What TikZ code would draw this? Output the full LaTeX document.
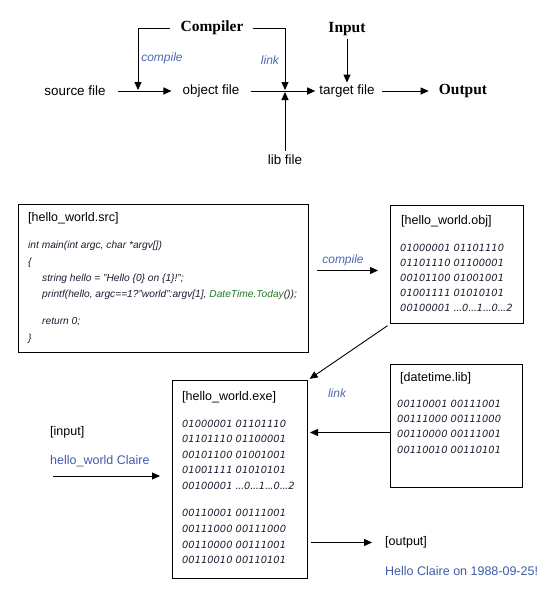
\documentclass[tikz,border=0pt]{standalone}
\usepackage{fontspec}
\setmainfont{Liberation Sans}
\newfontfamily\headfont{Liberation Serif}
\newfontfamily\bitsfont{DejaVu Sans}
\usetikzlibrary{arrows.meta}

\definecolor{noteblue}{RGB}{78,104,178}
\definecolor{inkblue}{RGB}{62,92,170}
\definecolor{codegreen}{RGB}{38,120,40}
\definecolor{codeink}{RGB}{28,28,48}

% narrow ellipsis used in the binary dumps
\newcommand{\bitdots}{.\kern-0.5pt.\kern-0.5pt.}

\tikzset{
  plain/.style={inner sep=0pt, font=\fontsize{13.4}{16}\selectfont},
  headword/.style={inner sep=0pt, font=\headfont\bfseries\fontsize{15.5}{18}\selectfont},
  note/.style={inner sep=0pt, text=noteblue, font=\itshape\fontsize{12}{14}\selectfont},
  filebox/.style={draw, line width=1pt, inner sep=0pt, anchor=north west},
  boxtitle/.style={inner sep=0pt, anchor=west, font=\fontsize{12.5}{15}\selectfont},
  bits/.style={inner sep=0pt, anchor=west, text=codeink, font=\bitsfont\itshape\fontsize{9.9}{12}\selectfont},
  codeline/.style={inner sep=0pt, anchor=west, text=codeink, font=\itshape\fontsize{10.2}{12}\selectfont},
  sample/.style={inner sep=0pt, anchor=west, font=\fontsize{12.5}{15}\selectfont},
  flow/.style={line width=0.9pt, -{Triangle[length=8pt,width=7pt]}},
}

\begin{document}
\begin{tikzpicture}[x=1pt,y=-1pt]
\useasboundingbox (0,0) rectangle (548,592);

% ---------- overview: source -> object -> target -> output ----------
\node[headword] (compiler) at (212,28) {Compiler};
\node[headword] (input)    at (347,29) {Input};
\node[plain]    (source)   at (75,91)  {source file};
\node[plain]    (object)   at (211,91) {object file};
\node[plain]    (target)   at (347,91) {target file};
\node[headword] (output)   at (463,91) {Output};
\node[plain]    (lib)      at (285,160) {lib file};
\node[note]     (compilenote) at (162,58) {compile};
\node[note]     (linknote)    at (270,60) {link};

\coordinate (cjoin) at (138,91);
\coordinate (ljoin) at (285,91);

\draw[flow, shorten <=12pt, shorten >=11pt] (source.east) -- (object.west);
\draw[flow, shorten <=11pt, shorten >=4pt] (object.east) -- (target.west);
\draw[flow, shorten <=7pt, shorten >=10pt] (target.east) -- (output.west);
\draw[flow, shorten >=1pt] ([xshift=-10pt]compiler.west) -| (cjoin);
\draw[flow, shorten >=1pt] ([xshift=9pt]compiler.east) -| (ljoin);
\draw[flow, shorten <=3pt, shorten >=2pt] (input.south) -- (input.south |- target.north);
\draw[flow, shorten <=4pt, shorten >=1pt] (lib.north) -- (ljoin);

% ---------- worked example ----------
\node[filebox, minimum width=290pt, minimum height=148pt] (srcbox) at (18,204) {};
\node[filebox, minimum width=133pt, minimum height=118pt] (objbox) at (390,205) {};
\node[filebox, minimum width=135pt, minimum height=198pt] (exebox) at (172,380) {};
\node[filebox, minimum width=132pt, minimum height=123pt] (libbox) at (390,364) {};

% source file
\node[boxtitle] (srctitle) at (28,218) {[hello\_world.src]};
\node[codeline] (src1) at (28,246) {int main(int argc, char *argv[])};
\node[codeline] (src2) at (28,263) {\{};
\node[codeline] (src3) at (42,279) {string hello = "Hello \{0\} on \{1\}!";};
\node[codeline] (src4) at (42,295) {printf(hello, argc==1?"world":argv[1], \textcolor{codegreen}{DateTime.Today}());};
\node[codeline] (src5) at (42,322) {return 0;};
\node[codeline] (src6) at (28,339) {\}};

% object file
\node[boxtitle] (objtitle) at (401,221) {[hello\_world.obj]};
\node[bits] (obj1) at (400,248) {01000001 01101110};
\node[bits] (obj2) at (400,263) {01101110 01100001};
\node[bits] (obj3) at (400,278) {00101100 01001001};
\node[bits] (obj4) at (400,293) {01001111 01010101};
\node[bits] (obj5) at (400,308) {00100001 \bitdots0\bitdots1\bitdots0\bitdots2};

% executable
\node[boxtitle] (exetitle) at (182,397) {[hello\_world.exe]};
\node[bits] (exe1) at (182,424) {01000001 01101110};
\node[bits] (exe2) at (182,439) {01101110 01100001};
\node[bits] (exe3) at (182,455) {00101100 01001001};
\node[bits] (exe4) at (182,470) {01001111 01010101};
\node[bits] (exe5) at (182,486) {00100001 \bitdots0\bitdots1\bitdots0\bitdots2};
\node[bits] (exe6) at (182,513) {00110001 00111001};
\node[bits] (exe7) at (182,529) {00111000 00111000};
\node[bits] (exe8) at (182,545) {00110000 00111001};
\node[bits] (exe9) at (182,560) {00110010 00110101};

% library
\node[boxtitle] (libtitle) at (400,378) {[datetime.lib]};
\node[bits] (lib1) at (397,404) {00110001 00111001};
\node[bits] (lib2) at (397,419) {00111000 00111000};
\node[bits] (lib3) at (397,434) {00110000 00111001};
\node[bits] (lib4) at (397,450) {00110010 00110101};

% input and output samples
\node[sample] (inlabel)  at (50,432) {[input]};
\node[sample, text=inkblue] (inargs) at (50,461) {hello\_world Claire};
\node[sample] (outlabel) at (385,542) {[output]};
\node[sample, text=inkblue] (outtext) at (385,571) {Hello Claire on 1988-09-25!};

\node[note] (compilenote2) at (343,260) {compile};
\node[note] (linknote2)    at (337,393) {link};

% connectors
\path ([yshift=8pt]srcbox.east) coordinate (cmpstart);
\draw[flow, shorten <=8pt, shorten >=12pt] (cmpstart) -- (cmpstart -| objbox.west);
\draw[flow, shorten <=3pt, shorten >=2pt] (objbox.south west) -- (exebox.north east);
\path ([yshift=-6.5pt]libbox.west) coordinate (linkstart);
\draw[flow, shorten >=2pt] (linkstart) -- (linkstart -| exebox.east);
\coordinate (inputstart) at (53,476);
\draw[flow, shorten >=12pt] (inputstart) -- (inputstart -| exebox.west);
\path ([yshift=-63pt]exebox.east) coordinate (outstart);
\draw[flow, shorten <=3pt, shorten >=13pt] (outstart) -- (outstart -| outlabel.west);
\end{tikzpicture}
\end{document}
